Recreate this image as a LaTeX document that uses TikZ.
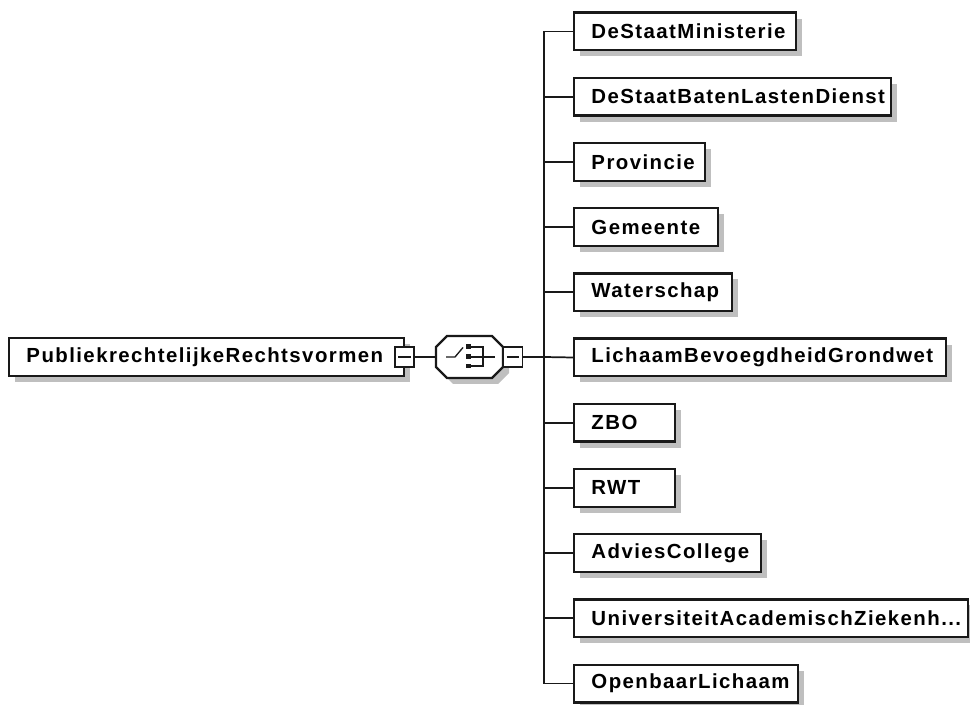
\documentclass[tikz,border=0pt]{standalone}
\usepackage{fontspec}
\newfontfamily\elemfont{Liberation Sans}[LetterSpace=7]
\usetikzlibrary{shadows}

\tikzset{
  elem/.style={draw=black!90, line width=1.7pt, fill=white, anchor=west, align=left,
    minimum height=28.3pt, inner xsep=13pt, inner ysep=0pt,
    font=\elemfont\bfseries\fontsize{15.3pt}{18pt}\selectfont,
    drop shadow={shadow xshift=4.5pt, shadow yshift=-4.5pt, fill=black!25, opacity=1}},
  minusbox/.style={draw=black!90, line width=1.2pt, fill=white, minimum width=14pt, minimum height=15pt, inner sep=0pt},
  choice/.style={draw=black!90, line width=1.7pt, fill=white},
  wire/.style={line width=1.3pt, draw=black!90}
}

\begin{document}
\begin{tikzpicture}[x=0.75pt,y=0.75pt,yscale=-1,xscale=1]
\useasboundingbox (0,0) rectangle (970,705);

% Root element
\node[elem, text width=270pt] (root) at (8,357) {PubliekrechtelijkeRechtsvormen};
\node[minusbox] (rootminus) at (404.5,357) {};
\draw[wire] ([xshift=3pt]rootminus.west) -- ([xshift=-3pt]rootminus.east);

% Choice compositor
\fill[black!25] (453,342) -- (498,342) -- (509,353) -- (509,373) -- (498,384) -- (453,384) -- (442,373) -- (442,353) -- cycle;
\draw[choice] (447,336) -- (492,336) -- (503,347) -- (503,367) -- (492,378) -- (447,378) -- (436,367) -- (436,347) -- cycle;
\node[inner sep=0pt, minimum width=50pt, minimum height=31.5pt] (choice) at (469.5,357) {};
\draw[wire, line width=1pt] (446,357) -- (455,357) -- (463,347.5);
\fill[black!90] (466,344.5) rectangle (470.5,349);
\fill[black!90] (466,354.5) rectangle (470.5,359);
\fill[black!90] (466,364) rectangle (470.5,368.5);
\draw[wire, line width=1pt] (470.5,347) -- (483,347) -- (483,366) -- (470.5,366);
\draw[wire, line width=1pt] (470.5,357) -- (495,357);
\node[minusbox] (choiceminus) at (513,357) {};
\draw[wire] ([xshift=3pt]choiceminus.west) -- ([xshift=-3pt]choiceminus.east);
\coordinate (bus) at (544,357);

% Child elements
\node[elem, text width=140.5pt] (ministerie) at (573,31.5) {DeStaatMinisterie};
\node[elem, text width=211.75pt] (batenlasten) at (573,96.7) {DeStaatBatenLastenDienst};
\node[elem, text width=72.25pt] (provincie) at (573,161.9) {Provincie};
\node[elem, text width=82pt] (gemeente) at (573,227.1) {Gemeente};
\node[elem, text width=92.5pt] (waterschap) at (573,292.3) {Waterschap};
\node[elem, text width=253pt] (grondwet) at (573,357.5) {LichaamBevoegdheidGrondwet};
\node[elem, text width=49.75pt] (zbo) at (573,422.7) {ZBO};
\node[elem, text width=49.75pt] (rwt) at (573,487.9) {RWT};
\node[elem, text width=114.25pt] (advies) at (573,553.1) {AdviesCollege};
\node[elem, text width=269.5pt] (universiteit) at (573,618.3) {UniversiteitAcademischZiekenh...};
\node[elem, text width=142pt] (openbaar) at (573,683.5) {OpenbaarLichaam};

% Connectors
\draw[wire] (rootminus.east) -- (choice.west);
\draw[wire] (choiceminus.east) -- (bus);
\draw[wire] (ministerie.west) -| (bus);
\draw[wire] (openbaar.west) -| (bus);
\draw[wire] (bus |- batenlasten.west) -- (batenlasten.west);
\draw[wire] (bus |- provincie.west) -- (provincie.west);
\draw[wire] (bus |- gemeente.west) -- (gemeente.west);
\draw[wire] (bus |- waterschap.west) -- (waterschap.west);
\draw[wire] (bus) -- (grondwet.west);
\draw[wire] (bus |- zbo.west) -- (zbo.west);
\draw[wire] (bus |- rwt.west) -- (rwt.west);
\draw[wire] (bus |- advies.west) -- (advies.west);
\draw[wire] (bus |- universiteit.west) -- (universiteit.west);

\end{tikzpicture}
\end{document}
